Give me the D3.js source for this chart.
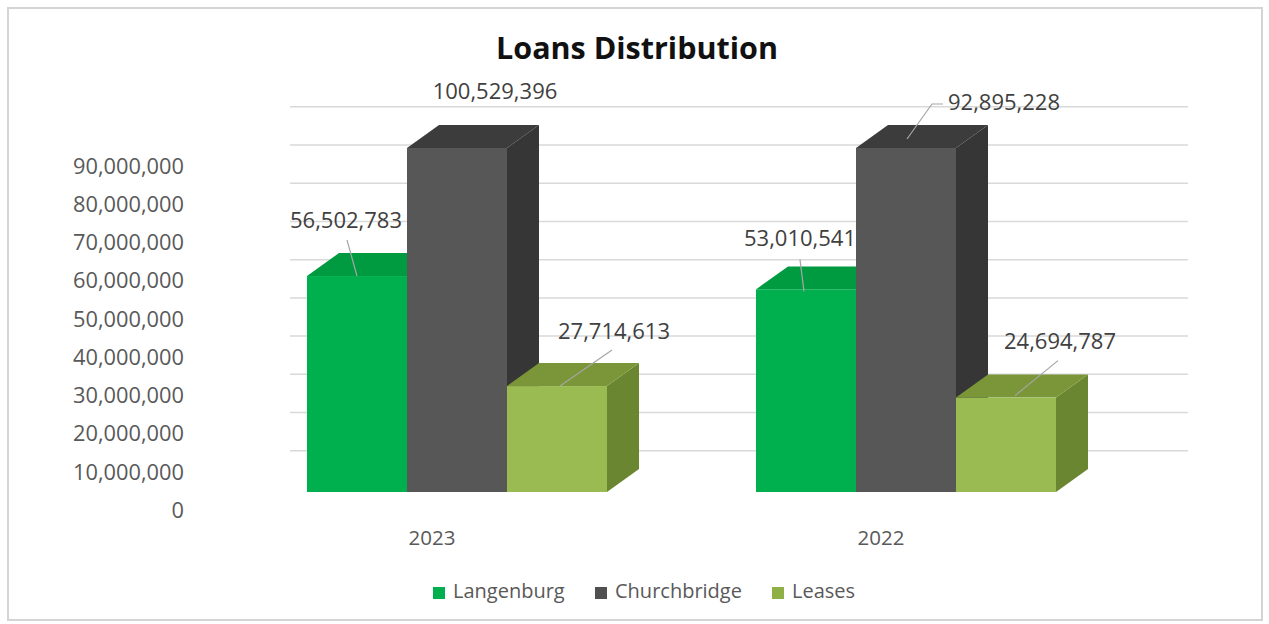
<!DOCTYPE html>
<html>
<head>
<meta charset="utf-8">
<script src="https://cdn.jsdelivr.net/npm/d3@7"></script>
<style>
  html, body { margin: 0; padding: 0; background: #ffffff; }
  svg { display: block; font-family: "Open Sans", "Noto Sans", sans-serif; }
</style>
</head>
<body>
<svg id="chart" width="1269" height="624"></svg>
<script>
// Loan balances by branch / product, per year
const categories = ["2023", "2022"];
const seriesNames = ["Langenburg", "Churchbridge", "Leases"];
const langenburg = [56502783, 53010541];
const churchbridge = [100529396, 92895228];
const leases = [27714613, 24694787];
const seriesValues = [langenburg, churchbridge, leases];
const yTicks = [0, 10000000, 20000000, 30000000, 40000000, 50000000, 60000000, 70000000, 80000000, 90000000];
const gridValues = [10000000, 20000000, 30000000, 40000000, 50000000, 60000000, 70000000, 80000000, 90000000, 100000000];
const axisMax = 90000000;

// Face colours for the 3D columns: front, top, side
const palette = [
  { front: "#00b04f", top: "#009a40", side: "#007f35", key: "#00b04f" },
  { front: "#575757", top: "#3c3c3c", side: "#363636", key: "#505050" },
  { front: "#9aba52", top: "#7b9638", side: "#6b8630", key: "#8fb045" }
];

const svg = d3.select("#chart");
const fmt = d3.format(",");

// Chart frame
svg.append("rect")
  .attr("x", 8).attr("y", 8).attr("width", 1254).attr("height", 612)
  .attr("fill", "#ffffff").attr("stroke", "#d4d4d4").attr("stroke-width", 2);

// Scales (front plane of the columns)
const y = d3.scaleLinear().domain([0, axisMax]).range([492, 148]);
const x0 = d3.scaleBand().domain(categories).range([232.5, 1130.5])
  .paddingInner(0.3318).paddingOuter(0.1659);
const x1 = d3.scaleBand().domain(seriesNames).range([0, x0.bandwidth()]).padding(0);

// Projection offset of the depth axis
const depthX = 32, depthY = -23;
const gridShift = -3;

// Back-wall gridlines
svg.append("g").selectAll("line").data(gridValues).join("line")
  .attr("x1", 290).attr("x2", 1188)
  .attr("y1", d => y(d) + gridShift).attr("y2", d => y(d) + gridShift)
  .attr("stroke", "#d9d9d9").attr("stroke-width", 1.5);

// Value axis labels
svg.append("g").selectAll("text").data(yTicks).join("text")
  .attr("x", 184).attr("y", d => y(d) + 20)
  .attr("text-anchor", "end").attr("dominant-baseline", "middle")
  .attr("font-size", 21.8).attr("fill", "#595959")
  .text(d => fmt(d));

// Build bar records
const bars = [];
categories.forEach((cat, ci) => {
  seriesNames.forEach((s, si) => {
    const v = seriesValues[si][ci];
    const left = x0(cat) + x1(s);
    const right = left + x1.bandwidth();
    const top = y(Math.min(v, axisMax));
    const base = y(0);
    bars.push({ cat, ci, s, si, v, left, right, top, base });
  });
});

// Columns drawn left to right so nearer faces overlap correctly
const barG = svg.append("g");
bars.forEach(b => {
  const c = palette[b.si];
  const g = barG.append("g");
  // right side face
  g.append("path")
    .attr("d", d3.line()([
      [b.right, b.top], [b.right + depthX, b.top + depthY],
      [b.right + depthX, b.base + depthY], [b.right, b.base]
    ]) + "Z")
    .attr("fill", c.side);
  // top face
  g.append("path")
    .attr("d", d3.line()([
      [b.left, b.top], [b.left + depthX, b.top + depthY],
      [b.right + depthX, b.top + depthY], [b.right, b.top]
    ]) + "Z")
    .attr("fill", c.top);
  // front face
  g.append("rect")
    .attr("x", b.left).attr("y", b.top)
    .attr("width", b.right - b.left).attr("height", b.base - b.top)
    .attr("fill", c.front);
});

// Data label placement relative to the column's front-top centre
const labelLayout = [
  { dx: -11, dy: -54, leader: [[1, 18]], end: [0, 0] },
  { dx: 38, dy: -55, leader: null, end: null },
  { dx: 57, dy: -53, leader: [[-2, 17]], end: [3, 0] },
  { dx: -6, dy: -49, leader: [[0, 19]], end: [-2, 2] },
  { dx: 98, dy: -44, leader: [[-61, 0], [-72, 0]], end: [1, -9] },
  { dx: 54, dy: -55, leader: [[-2, 18]], end: [9, -2] }
];

const labelG = svg.append("g");
bars.forEach((b, i) => {
  const L = labelLayout[i];
  const cx = (b.left + b.right) / 2;
  const lx = cx + L.dx, ly = b.top + L.dy;
  if (L.leader) {
    const pts = L.leader.map(p => [lx + p[0], ly + p[1]]);
    pts.push([cx + L.end[0], b.top + L.end[1]]);
    labelG.append("path")
      .attr("d", d3.line()(pts))
      .attr("fill", "none").attr("stroke", "#a6a6a6").attr("stroke-width", 1.2);
  }
  labelG.append("text")
    .attr("x", lx).attr("y", ly)
    .attr("text-anchor", "middle").attr("dominant-baseline", "middle")
    .attr("font-size", 22).attr("fill", "#404040")
    .text(fmt(b.v));
});

// Category labels
svg.append("g").selectAll("text").data(categories).join("text")
  .attr("x", d => x0(d) + x0.bandwidth() / 2 - 25).attr("y", 540)
  .attr("text-anchor", "middle").attr("dominant-baseline", "middle")
  .attr("font-size", 20.5).attr("fill", "#595959")
  .text(d => d);

// Title
svg.append("text")
  .attr("x", 637).attr("y", 51)
  .attr("text-anchor", "middle").attr("dominant-baseline", "middle")
  .attr("font-size", 30.5).attr("font-weight", "bold").attr("fill", "#111111")
  .text("Loans Distribution");

// Legend
const legendX = [433, 595, 772];
const legend = svg.append("g").selectAll("g").data(seriesNames).join("g")
  .attr("transform", (d, i) => `translate(${legendX[i]},593)`);
legend.append("rect")
  .attr("x", 0).attr("y", -6).attr("width", 12).attr("height", 12)
  .attr("fill", (d, i) => palette[i].key);
legend.append("text")
  .attr("x", 20).attr("y", 0).attr("dominant-baseline", "middle")
  .attr("font-size", 20).attr("fill", "#595959")
  .text(d => d);
</script>
</body>
</html>
